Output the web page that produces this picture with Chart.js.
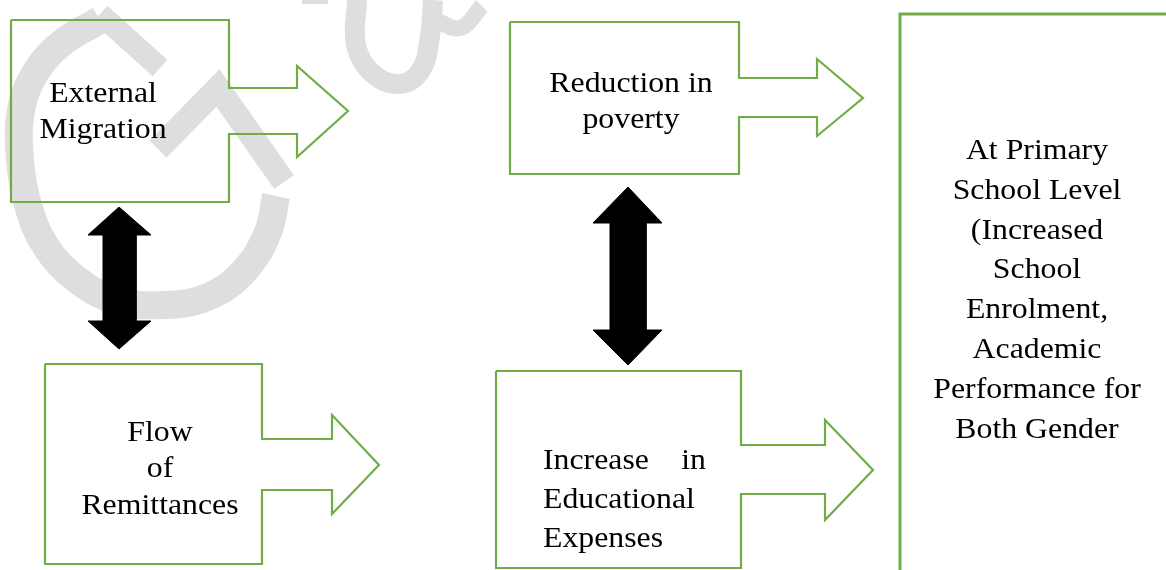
<!DOCTYPE html>
<html lang="en">
<head>
    <meta charset="UTF-8">
    <title>Remittances and Education</title>
    <script src="https://cdn.jsdelivr.net/npm/chart.js"></script>
    <style>
        body {
            margin: 0;
            background: #ffffff;
        }
        #wrap {
            width: 1166px;
            height: 570px;
        }
    </style>
</head>
<body>
    <div id="wrap">
        <canvas id="flowChart" width="1166" height="570"></canvas>
    </div>

    <script>
        // outline shapes (box + right arrow), in picture units
        const migrationBox = [[11,20],[229,20],[229,88],[297,88],[297,66],[348,111],[297,157],[297,134],[229,134],[229,202],[11,202],[11,20]];
        const povertyBox = [[510,22],[739,22],[739,78],[817,78],[817,59],[863,98],[817,136],[817,117],[739,117],[739,174],[510,174],[510,22]];
        const remittanceBox = [[45,364],[262,364],[262,439],[332,439],[332,415],[379,465],[332,514],[332,490],[262,490],[262,564],[45,564],[45,364]];
        const expensesBox = [[496,371],[741,371],[741,445],[825,445],[825,420],[873,470],[825,520],[825,494],[741,494],[741,568],[496,568],[496,371]];
        const outcomeBox = [[900,570],[900,14],[1166,14]];

        // black double arrows
        const leftLink = [[119,207],[151,235],[136,235],[136,321],[151,321],[119,349],[88,321],[103,321],[103,235],[88,235],[119,207]];
        const middleLink = [[628,187],[662,223],[646,223],[646,330],[662,330],[628,365],[593,330],[610,330],[610,223],[593,223],[628,187]];

        // faint watermark strokes
        const markArc = [[100,20],[62,43],[36,72],[21,110],[20,160],[28,205],[45,245],[75,278],[115,300],[165,305],[210,296],[245,270],[268,232],[276,196]];
        const markTop = [[100,14],[160,68]];
        const markBar = [[158,149],[218,88],[284,182]];
        const markLoop = [[357,0],[356,45],[373,74],[400,84],[421,70],[430,36],[433,0]];
        const markTail = [[432,18],[460,28],[482,6]];
        const markSpeck = [[302,2],[328,2]];

        const migrationText = ['External', 'Migration'];
        const povertyText = ['Reduction in', 'poverty'];
        const remittanceText = ['Flow', 'of', 'Remittances'];
        const expensesText = ['Increase', 'in', 'Educational', 'Expenses'];
        const outcomeText = ['At Primary', 'School Level', '(Increased', 'School', 'Enrolment,', 'Academic', 'Performance for', 'Both Gender'];

        const pts = arr => arr.map(p => ({ x: p[0], y: p[1] }));

        function outline(arr, width) {
            return {
                data: pts(arr), showLine: true, pointRadius: 0, borderColor: '#70ad47',
                borderWidth: width || 2.2, borderJoinStyle: 'miter', fill: false, order: 0
            };
        }
        function solid(arr) {
            return {
                data: pts(arr), showLine: true, pointRadius: 0, borderColor: '#000000',
                backgroundColor: '#000000', borderWidth: 1, fill: 'shape', order: 0
            };
        }
        function mark(arr, width, curve) {
            return {
                data: pts(arr), showLine: true, pointRadius: 0, borderColor: '#dedede',
                borderWidth: width, borderCapStyle: 'butt', tension: curve ? 0.4 : 0, fill: false, order: 1
            };
        }

        // the source text is a little wider than a plain serif face
        const STRETCH = 1.06;

        const textPlugin = {
            id: 'boxText',
            afterDatasetsDraw(chart) {
                const ctx = chart.ctx;
                const sx = v => chart.scales.x.getPixelForValue(v);
                const sy = v => chart.scales.y.getPixelForValue(v);

                const put = (t, x, y, align) => {
                    ctx.save();
                    ctx.translate(sx(x), sy(y));
                    ctx.scale(STRETCH, 1);
                    ctx.fillStyle = '#000000';
                    ctx.font = '30px "Liberation Serif", "Times New Roman", serif';
                    ctx.textBaseline = 'alphabetic';
                    ctx.textAlign = align;
                    ctx.fillText(t, 0, 0);
                    ctx.restore();
                };
                const centered = (lines, cx, y0, step) => {
                    lines.forEach((t, i) => put(t, cx, y0 + i * step, 'center'));
                };
                centered(migrationText, 103, 101.5, 36.7);
                centered(povertyText, 631, 91.5, 36.7);
                centered(remittanceText, 160, 440.5, 36.8);
                centered(outcomeText, 1037, 159, 39.8);

                // justified first line, then left aligned
                put(expensesText[0], 543, 469, 'left');
                put(expensesText[1], 706, 469, 'right');
                put(expensesText[2], 543, 508, 'left');
                put(expensesText[3], 543, 547, 'left');
            }
        };

        new Chart(document.getElementById('flowChart'), {
            type: 'scatter',
            data: {
                datasets: [
                    outline(migrationBox), outline(povertyBox), outline(remittanceBox), outline(expensesBox),
                    outline(outcomeBox, 3),
                    solid(leftLink), solid(middleLink),
                    mark(markArc, 28, true), mark(markTop, 22), mark(markBar, 24),
                    mark(markLoop, 20, true), mark(markTail, 16, true), mark(markSpeck, 4)
                ]
            },
            options: {
                responsive: false,
                animation: false,
                layout: { padding: 0 },
                plugins: { legend: { display: false }, tooltip: { enabled: false } },
                scales: {
                    x: { type: 'linear', min: 0, max: 1166, display: false },
                    y: { type: 'linear', min: 0, max: 570, reverse: true, display: false }
                }
            },
            plugins: [textPlugin]
        });
    </script>
</body>
</html>
